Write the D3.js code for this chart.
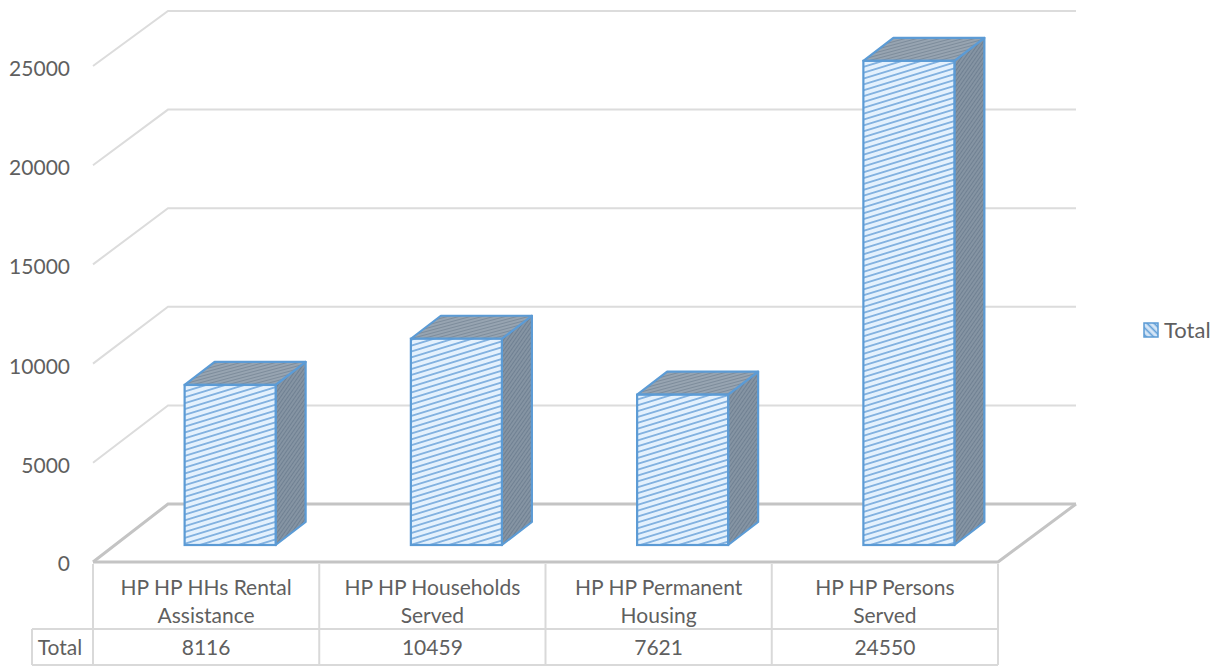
<!DOCTYPE html>
<html><head><meta charset="utf-8">
<script src="https://cdn.jsdelivr.net/npm/d3@7"></script>
<style>html,body{margin:0;padding:0;background:#fff}svg{display:block}text{font-family:Lato,"Open Sans",sans-serif;fill:#5f5f5f}</style>
</head><body><svg id="c" width="1220" height="667"></svg>
<script>
const categories=[["HP HP HHs Rental","Assistance"],["HP HP Households","Served"],["HP HP Permanent","Housing"],["HP HP Persons","Served"]];
const values=[8116,10459,7621,24550];
const yTicks=[0,5000,10000,15000,20000,25000];
const seriesName="Total";

const svg=d3.select("#c");
const defs=svg.append("defs");
function pat(id,bg,fg,w,h,angle,sw){
  const p=defs.append("pattern").attr("id",id).attr("patternUnits","userSpaceOnUse")
    .attr("width",w).attr("height",h).attr("patternTransform",`rotate(${angle})`);
  p.append("rect").attr("width",w).attr("height",h).attr("fill",bg);
  p.append("line").attr("x1",0).attr("x2",w).attr("y1",h/2).attr("y2",h/2).attr("stroke",fg).attr("stroke-width",sw);
}
pat("front","#e4f1fd","#7fb0df",8,5.6,-17,1.8);
pat("side","#8796a5","#6f8092",3,3,-55,1.2);
pat("topf","#98a5b2","#7d8c9b",4,3,-15,1.1);
pat("leg","#d5e6f7","#5b9bd5",5,5,45,1.6);
const blur=defs.append("filter").attr("id","soft");
blur.append("feGaussianBlur").attr("stdDeviation",0.45);

const root=svg.append("g").attr("filter","url(#soft)");
const yFront=d3.scaleLinear().domain([0,25000]).range([562,66]);
const yBack=d3.scaleLinear().domain([0,25000]).range([504,11]);
const yBar=d3.scaleLinear().domain([0,25000]).range([545,52]);
const x=d3.scaleBand().domain(d3.range(values.length)).range([93,998]).paddingInner(0).paddingOuter(0);
const dx=75, backRight=1076, barW=91, barDx=30, barDy=23, barShift=24;

yTicks.forEach(t=>{
  const z=t===0;
  root.append("path").attr("fill","none")
    .attr("stroke",z?"#c4c4c4":"#dcdcdc").attr("stroke-width",z?3:2)
    .attr("d",d3.line()([[x.range()[0],yFront(t)],[x.range()[0]+dx,yBack(t)],[backRight,yBack(t)]]));
});
root.append("path").attr("fill","none").attr("stroke","#c4c4c4").attr("stroke-width",3)
  .attr("d",d3.line()([[x.range()[0],yFront(0)],[x.range()[1],yFront(0)],[backRight,yBack(0)]]));

const bars=root.selectAll("g.bar").data(values).join("g").attr("class","bar");
const bx=(d,i)=>x(i)+(x.bandwidth()-barW)/2+barShift;
const frm=d3.line();
bars.append("path").attr("fill","url(#side)").attr("stroke","#5b9bd5").attr("stroke-width",2.2).attr("stroke-linejoin","round")
  .attr("d",(d,i)=>{const r=bx(d,i)+barW,t=yBar(d),b=yBar(0);return frm([[r,t],[r+barDx,t-barDy],[r+barDx,b-barDy],[r,b]])+"Z";});
bars.append("path").attr("fill","url(#topf)").attr("stroke","#5b9bd5").attr("stroke-width",2.2).attr("stroke-linejoin","round")
  .attr("d",(d,i)=>{const l=bx(d,i),r=l+barW,t=yBar(d);return frm([[l,t],[l+barDx,t-barDy],[r+barDx,t-barDy],[r,t]])+"Z";});
bars.append("rect").attr("fill","url(#front)").attr("stroke","#5b9bd5").attr("stroke-width",2.2)
  .attr("x",bx).attr("y",d=>yBar(d)).attr("width",barW).attr("height",d=>yBar(0)-yBar(d));

svg.selectAll("text.yt").data(yTicks).join("text").attr("class","yt")
  .attr("x",70).attr("y",d=>yFront(d)+8+(d===0?0:1)+1).attr("text-anchor","end").attr("font-size",21).text(d=>d);

const tTop=564,tMid=629,tBot=665,tLeft=32;
const tb=root.append("g").attr("stroke","#d9d9d9").attr("stroke-width",2);
x.domain().concat(values.length).forEach(i=>{
  const px=i<values.length?x(i):x.range()[1];
  tb.append("line").attr("x1",px).attr("x2",px).attr("y1",tTop).attr("y2",tBot);
});
[[tLeft,tMid],[tLeft,tBot]].forEach(([a,yy])=>tb.append("line").attr("x1",a).attr("x2",x.range()[1]).attr("y1",yy).attr("y2",yy));
tb.append("line").attr("x1",tLeft).attr("x2",tLeft).attr("y1",tMid).attr("y2",tBot);

categories.forEach((c,i)=>{
  const cx=x(i)+x.bandwidth()/2;
  c.forEach((s,j)=>svg.append("text").attr("x",cx).attr("y",595+j*28).attr("text-anchor","middle").attr("font-size",21).text(s));
  svg.append("text").attr("x",cx).attr("y",655).attr("text-anchor","middle").attr("font-size",21).text(values[i]);
});
svg.append("text").attr("x",60).attr("y",655).attr("text-anchor","middle").attr("font-size",21).text(seriesName);

svg.append("rect").attr("x",1144).attr("y",323).attr("width",14).attr("height",14).attr("fill","url(#leg)").attr("stroke","#5b9bd5").attr("stroke-width",1.5);
svg.append("text").attr("x",1164).attr("y",338).attr("font-size",22).text(seriesName);
</script></body></html>
